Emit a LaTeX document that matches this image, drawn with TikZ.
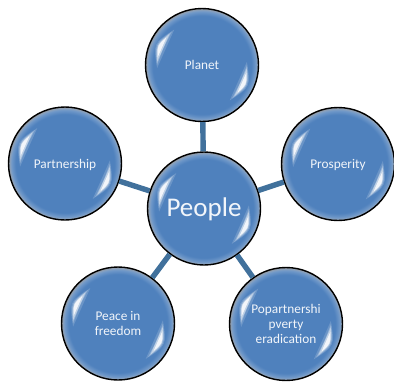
\documentclass[tikz,border=0pt]{standalone}
\usepackage{fontspec}
\setmainfont{Carlito}
\usetikzlibrary{shadings}
\definecolor{bubbleblue}{HTML}{4F81BD}
\definecolor{linkblue}{HTML}{41719C}
\pgfdeclareradialshading{bubbleshade}{\pgfpointorigin}{
  color(0bp)=(bubbleblue);
  color(21.8bp)=(bubbleblue);
  color(23.6bp)=(bubbleblue!82!white);
  color(24.5bp)=(bubbleblue!50!white!85!black);
  color(25bp)=(black!45);
  color(50bp)=(black!45)}
\tikzset{
  bubble/.style={circle,draw=black,line width=1.4pt,minimum size=113pt,inner sep=0pt,
    shading=bubbleshade,text=white!92!bubbleblue,align=center,font=\fontsize{13.3}{14.7}\selectfont},
  single/.style={bubble,text height=11pt,text depth=2pt},
  hub/.style={bubble,font=\fontsize{27}{32}\selectfont,text height=21pt,text depth=5pt},
  spoke/.style={draw=linkblue,line width=5.4pt},
  gleam/.style={fill=white,draw=none}
}
\begin{document}
\begin{tikzpicture}[x=1pt,y=-1pt]
  \useasboundingbox (0,0) rectangle (394,383);
  \node[hub]    (people) at (204,208.5) {People};
  \node[single] (planet) at (202,65) {Planet};
  \node[single] (prosperity) at (338,164) {Prosperity};
  \node[single] (partnership) at (65,163.5) {Partnership};
  \node[bubble] (peace) at (118,323.5) {Peace in\\freedom};
  \node[bubble] (poverty) at (286,324) {Popartnershi\\pverty\\eradication};
  \foreach \t in {planet,prosperity,partnership,peace,poverty}
    \draw[spoke] (people) -- (\t);
  \foreach \t in {people,planet,prosperity,partnership,peace,poverty}{
    \foreach \r in {0,180}{
      \begin{scope}[shift={(\t.center)},rotate=\r]
        \foreach \s/\ro/\ri/\op in {28/53.5/40.1/.16, 24/51.6/42.3/.26, 20/49.9/43.2/.42, 14/48.8/44.1/.8}{
          \path[gleam,opacity=\op]
            ({24-\s}:45) .. controls (24:\ro) .. ({24+\s}:45)
            .. controls (24:\ri) .. ({24-\s}:45) -- cycle;
        }
      \end{scope}
    }
  }
\end{tikzpicture}
\end{document}
